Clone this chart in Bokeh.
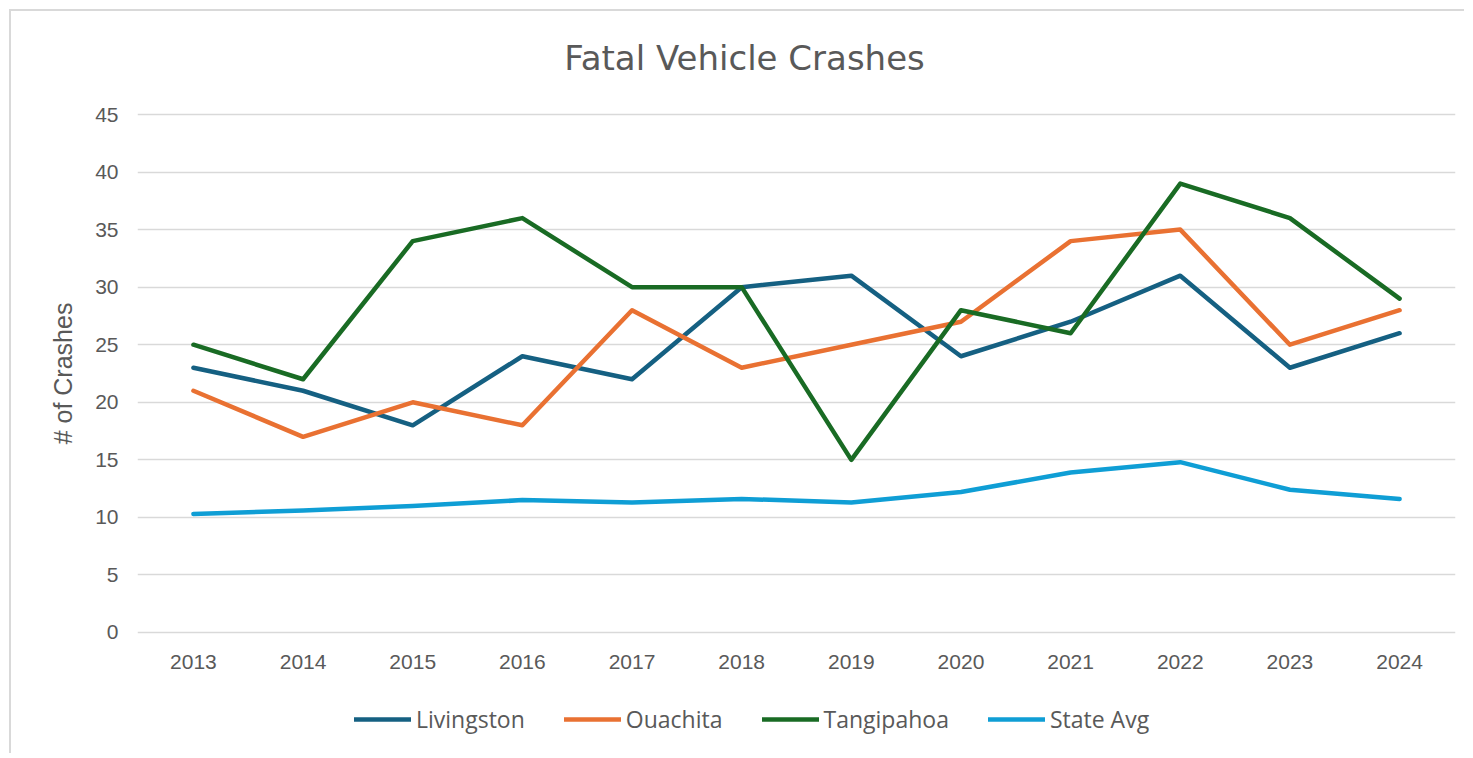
from bokeh.plotting import figure
from bokeh.models import Range1d, Legend, LegendItem, FixedTicker, CustomJSTickFormatter, Label
from bokeh.embed import file_html
from bokeh.resources import INLINE

years = [2013, 2014, 2015, 2016, 2017, 2018, 2019, 2020, 2021, 2022, 2023, 2024]
livingston = [23, 21, 18, 24, 22, 30, 31, 24, 27, 31, 23, 26]
ouachita = [21, 17, 20, 18, 28, 23, 25, 27, 34, 35, 25, 28]
tangipahoa = [25, 22, 34, 36, 30, 30, 15, 28, 26, 39, 36, 29]
state_avg = [10.3, 10.6, 11.0, 11.5, 11.3, 11.6, 11.3, 12.2, 13.9, 14.8, 12.4, 11.6]
series_names = ["Livingston", "Ouachita", "Tangipahoa", "State Avg"]
series_colors = ["#156082", "#E97132", "#196B24", "#0F9ED5"]
y_ticks = [0, 5, 10, 15, 20, 25, 30, 35, 40, 45]
chart_title = "Fatal Vehicle Crashes"

TXT = "#595959"

# The frame covers the canvas height so that title and legend can live inside it;
# the value axis keeps 0..45 between y=632 and y=114 on the page.
y_pad = 8.948
p = figure(width=1455, height=744, output_backend="svg", toolbar_location=None,
           x_range=Range1d(years[0] - 0.51, years[-1] + 0.51),
           y_range=Range1d(y_ticks[0] - y_pad, y_ticks[-1] + y_pad),
           min_border_left=126, min_border_right=11, min_border_top=0, min_border_bottom=20)
p.outline_line_color = None
p.background_fill_color = "white"
p.border_fill_color = "white"

# grid
p.xgrid.grid_line_color = None
p.ygrid.grid_line_color = "#D9D9D9"
p.ygrid.grid_line_width = 1.3

# axes
p.xaxis.ticker = FixedTicker(ticks=years)
p.xaxis.fixed_location = y_ticks[0]
p.yaxis.ticker = FixedTicker(ticks=y_ticks)
p.xaxis.formatter = CustomJSTickFormatter(code="return String(tick)")
for ax in (p.xaxis, p.yaxis):
    ax.axis_line_color = None
    ax.major_tick_line_color = None
    ax.minor_tick_line_color = None
    ax.major_tick_out = 0
    ax.major_tick_in = 0
    ax.major_label_text_color = TXT
    ax.major_label_text_font = "Liberation Sans"
    ax.major_label_text_font_size = "21px"
p.xaxis.major_label_standoff = 23
p.yaxis.major_label_standoff = 19
p.yaxis.axis_label = "# of Crashes"
p.yaxis.axis_label_text_font = "Liberation Sans"
p.yaxis.axis_label_text_font_size = "25px"
p.yaxis.axis_label_text_font_style = "normal"
p.yaxis.axis_label_text_color = TXT
p.yaxis.axis_label_standoff = 15

renderers = []
for vals, color in zip([livingston, ouachita, tangipahoa, state_avg], series_colors):
    r = p.line(years, vals, line_color=color, line_width=4.5,
               line_join="round", line_cap="round")
    renderers.append(r)

legend = Legend(items=[LegendItem(label=n, renderers=[r]) for n, r in zip(series_names, renderers)],
                orientation="horizontal", location=(217, 0),
                glyph_width=57, glyph_height=22, label_standoff=5, spacing=39,
                padding=0, margin=0, background_fill_alpha=0, border_line_alpha=0,
                label_text_font="Open Sans", label_text_font_size="23px",
                label_text_color=TXT, label_height=22)
p.add_layout(legend, "center")

title = Label(x=years[0] - 0.51 + 607 / 109.65, y=y_ticks[-1] + 56.5 / 11.511,
              text=chart_title, text_align="center", text_baseline="alphabetic",
              text_font="DejaVu Sans", text_font_size="34px", text_color=TXT)
p.add_layout(title)

p.styles = {"border-left": "2px solid #D9D9D9", "border-top": "2px solid #D9D9D9",
            "margin-left": "9px", "margin-top": "9px"}

open("out.html", "w").write(file_html(p, INLINE))
